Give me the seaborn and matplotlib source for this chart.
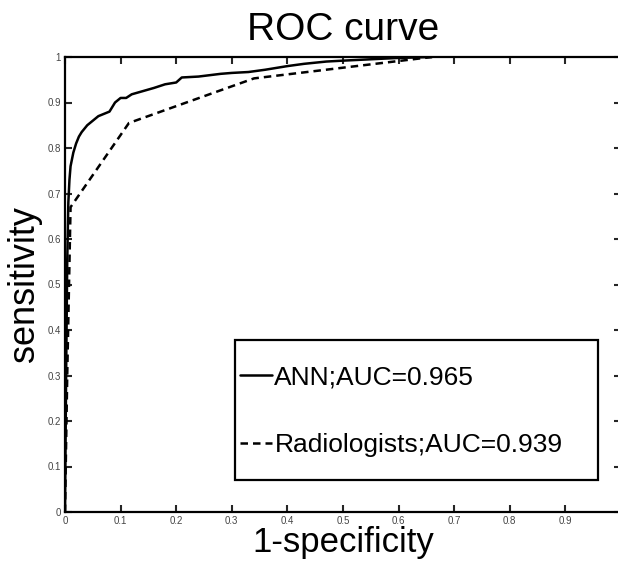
import numpy as np
import pandas as pd
import matplotlib
matplotlib.use('Agg')
import matplotlib.pyplot as plt
import seaborn as sb
from matplotlib.patches import Rectangle

# ROC points (1-specificity, sensitivity)
ann_fpr = [0, 0.002, 0.004, 0.006, 0.008, 0.01, 0.015, 0.02, 0.025, 0.03, 0.04, 0.05,
           0.06, 0.07, 0.08, 0.09, 0.1, 0.11, 0.12, 0.14, 0.16, 0.18, 0.2, 0.21, 0.24,
           0.26, 0.28, 0.3, 0.33, 0.36, 0.4, 0.43, 0.47, 0.5, 0.55, 0.6, 0.66]
ann_tpr = [0, 0.3, 0.55, 0.68, 0.73, 0.76, 0.79, 0.81, 0.825, 0.835, 0.85, 0.86,
           0.87, 0.875, 0.88, 0.9, 0.91, 0.91, 0.918, 0.925, 0.932, 0.94, 0.944, 0.955, 0.957,
           0.96, 0.963, 0.965, 0.967, 0.972, 0.98, 0.985, 0.99, 0.992, 0.995, 0.998, 1.0]
rad_fpr = [0, 0.004, 0.01, 0.115, 0.34, 0.66]
rad_tpr = [0, 0.3, 0.67, 0.855, 0.953, 1.0]
labels = ['ANN;AUC=0.965', 'Radiologists;AUC=0.939']

x_ticks = [0, 0.1, 0.2, 0.3, 0.4, 0.5, 0.6, 0.7, 0.8, 0.9, 1.0]
x_ticklabels = ['0', '0.1', '0.2', '0.3', '0.4', '0.5', '0.6', '0.7', '0.8', '0.9', '']
y_ticks = [0, 0.1, 0.2, 0.3, 0.4, 0.5, 0.6, 0.7, 0.8, 0.9, 1.0]
y_ticklabels = ['0', '0.1', '0.2', '0.3', '0.4', '0.5', '0.6', '0.7', '0.8', '0.9', '1']

sb.set_style('ticks')
plt.rcParams['font.family'] = ['Liberation Sans', 'DejaVu Sans']
plt.rcParams['text.color'] = 'black'
plt.rcParams['axes.labelcolor'] = 'black'

df_ann = pd.DataFrame({'fpr': ann_fpr, 'tpr': ann_tpr})
df_rad = pd.DataFrame({'fpr': rad_fpr, 'tpr': rad_tpr})

fig = plt.figure(figsize=(6.18, 5.62), dpi=100)
ax = fig.add_axes([65/618, 1-512/562, 556/618, 455/562])

sb.lineplot(data=df_ann, x='fpr', y='tpr', sort=False, estimator=None, ax=ax,
            color='black', linewidth=1.8, label=labels[0])
sb.lineplot(data=df_rad, x='fpr', y='tpr', sort=False, estimator=None, ax=ax,
            color='black', linewidth=1.8, label=labels[1])
ax.lines[1].set_dashes((3, 2))

ax.set_xlim(0, 1)
ax.set_ylim(0, 1)
ax.set_xticks(x_ticks)
ax.set_xticklabels(x_ticklabels)
ax.set_yticks(y_ticks)
ax.set_yticklabels(y_ticklabels)
ax.tick_params(direction='in', length=5, width=1.5, top=True, right=True,
               labelsize=7, labelcolor='#444444', pad=3)
for s in ax.spines.values():
    s.set_linewidth(1.6)
    s.set_color('black')

ax.set_title('ROC curve', fontsize=28, pad=12, color='black')
ax.set_xlabel('1-specificity', fontsize=25, labelpad=0)
ax.set_ylabel('sensitivity', fontsize=26, labelpad=4)

# legend box
ax.add_patch(Rectangle((0.306, 0.070), 0.653, 0.308, transform=ax.transAxes,
                       fill=False, edgecolor='black', linewidth=1.6, zorder=5))
leg = ax.legend(loc='center left', bbox_to_anchor=(0.315, 0.222), frameon=False,
                fontsize=19, handlelength=1.2, handletextpad=0.1, labelspacing=1.65,
                borderpad=0, borderaxespad=0)
for t in leg.get_texts():
    t.set_color('black')

fig.savefig('out.png', dpi=100)
